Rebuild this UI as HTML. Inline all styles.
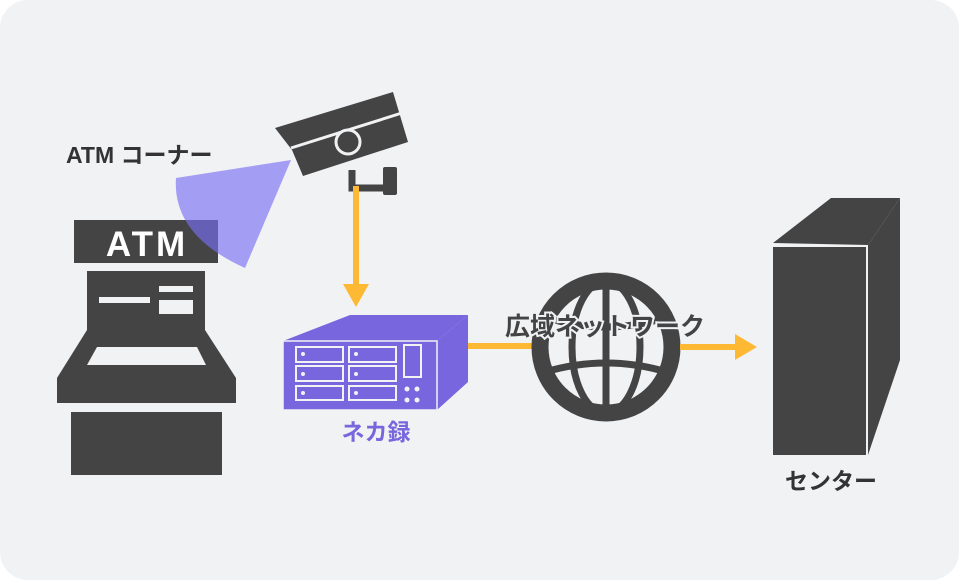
<!DOCTYPE html>
<html><head><meta charset="utf-8"><style>
html,body{margin:0;padding:0;background:#fff;}
svg{display:block}
text{font-family:"Liberation Sans","Noto Sans CJK JP",sans-serif;font-weight:bold}
</style></head><body>
<svg width="959" height="580" viewBox="0 0 959 580">
<rect x="0" y="0" width="959" height="580" rx="28" fill="#f1f2f4"/>
<!-- ATM -->
<rect x="74" y="220" width="144" height="43" fill="#444"/>
<text x="147" y="256" text-anchor="middle" fill="#fff" font-size="35" letter-spacing="3">ATM</text>
<path d="M87 271 H205 V330 L236 378 V403 H57 V378 L87 330 Z" fill="#444"/>
<rect x="99" y="297" width="51" height="6" fill="#f1f2f4"/>
<rect x="159" y="286" width="34" height="6" fill="#f1f2f4"/>
<rect x="159" y="300" width="34" height="14" fill="#f1f2f4"/>
<path d="M97 347 H197 L206 365 H87 Z" fill="#f1f2f4"/>
<rect x="71" y="412" width="151" height="63" fill="#444"/>
<!-- cone -->
<path d="M291 160 L176 178 Q172 235 245 268 Z" fill="#7a6ef5" fill-opacity="0.65"/>
<text x="66" y="163" fill="#333" font-size="23">ATM コーナー</text>
<!-- camera -->
<path d="M275 128 L393 92 L408 142 L303 176 L292 150 Z" fill="#444"/>
<path d="M291 148 L405 112" stroke="#f1f2f4" stroke-width="3"/>
<circle cx="348" cy="142" r="12" fill="#444" stroke="#f1f2f4" stroke-width="3"/>
<path d="M352 170 V188 H385" stroke="#444" stroke-width="7" fill="none"/>
<rect x="383" y="167" width="14" height="28" rx="2" fill="#444"/>
<!-- arrow down -->
<rect x="353" y="186" width="6" height="100" fill="#fdb934"/>
<path d="M343 284 H369 L356 307 Z" fill="#fdb934"/>
<!-- recorder -->
<path d="M283 341 L350 315 H468 L437 341 Z" fill="#7766dd"/>
<path d="M437 341 L468 315 V382 L437 410 Z" fill="#7766dd"/>
<rect x="283" y="341" width="154" height="69" fill="#7766dd" stroke="#f1f2f4" stroke-width="1.5"/>
<g fill="none" stroke="#f1f2f4" stroke-width="2">
<rect x="296" y="347" width="47" height="15"/><rect x="349" y="347" width="47" height="15"/>
<rect x="296" y="366" width="47" height="15"/><rect x="349" y="366" width="47" height="15"/>
<rect x="296" y="386" width="47" height="14"/><rect x="349" y="386" width="47" height="14"/>
<rect x="404" y="345" width="17" height="32"/>
</g>
<g fill="#f1f2f4"><circle cx="303" cy="354" r="2"/><circle cx="356" cy="354" r="2"/><circle cx="303" cy="374" r="2"/><circle cx="356" cy="374" r="2"/><circle cx="303" cy="393" r="2"/><circle cx="356" cy="393" r="2"/>
<circle cx="407" cy="389" r="2.5"/><circle cx="417" cy="389" r="2.5"/><circle cx="407" cy="400" r="2.5"/><circle cx="417" cy="400" r="2.5"/></g>
<text x="376" y="440" text-anchor="middle" fill="#7766dd" font-size="23">ネカ録</text>
<!-- line to globe -->
<rect x="468" y="343" width="75" height="6" fill="#fdb934"/>
<!-- globe -->
<g stroke="#444" fill="none">
<circle cx="606" cy="347" r="66" stroke-width="17"/>
<ellipse cx="606" cy="347" rx="34" ry="66" stroke-width="7"/>
<line x1="606" y1="281" x2="606" y2="413" stroke-width="7"/>
<path d="M548 318 Q606 336 664 318" stroke-width="7"/>
<path d="M545 372 Q606 354 667 372" stroke-width="7"/>
</g>
<text x="605" y="335" text-anchor="middle" fill="#444" font-size="25" stroke="#f1f2f4" stroke-width="4" paint-order="stroke">広域ネットワーク</text>
<rect x="680" y="344" width="56" height="6" fill="#fdb934"/>
<path d="M735 334 V360 L757 347 Z" fill="#fdb934"/>
<!-- server -->
<path d="M773 243 L831 198 H900 L868 245 Z" fill="#444"/>
<path d="M868 245 L900 198 V360 L868 455 Z" fill="#444"/>
<rect x="773" y="247" width="93" height="208" fill="#444"/>
<text x="831" y="489" text-anchor="middle" fill="#333" font-size="23">センター</text>
</svg>
</body></html>
